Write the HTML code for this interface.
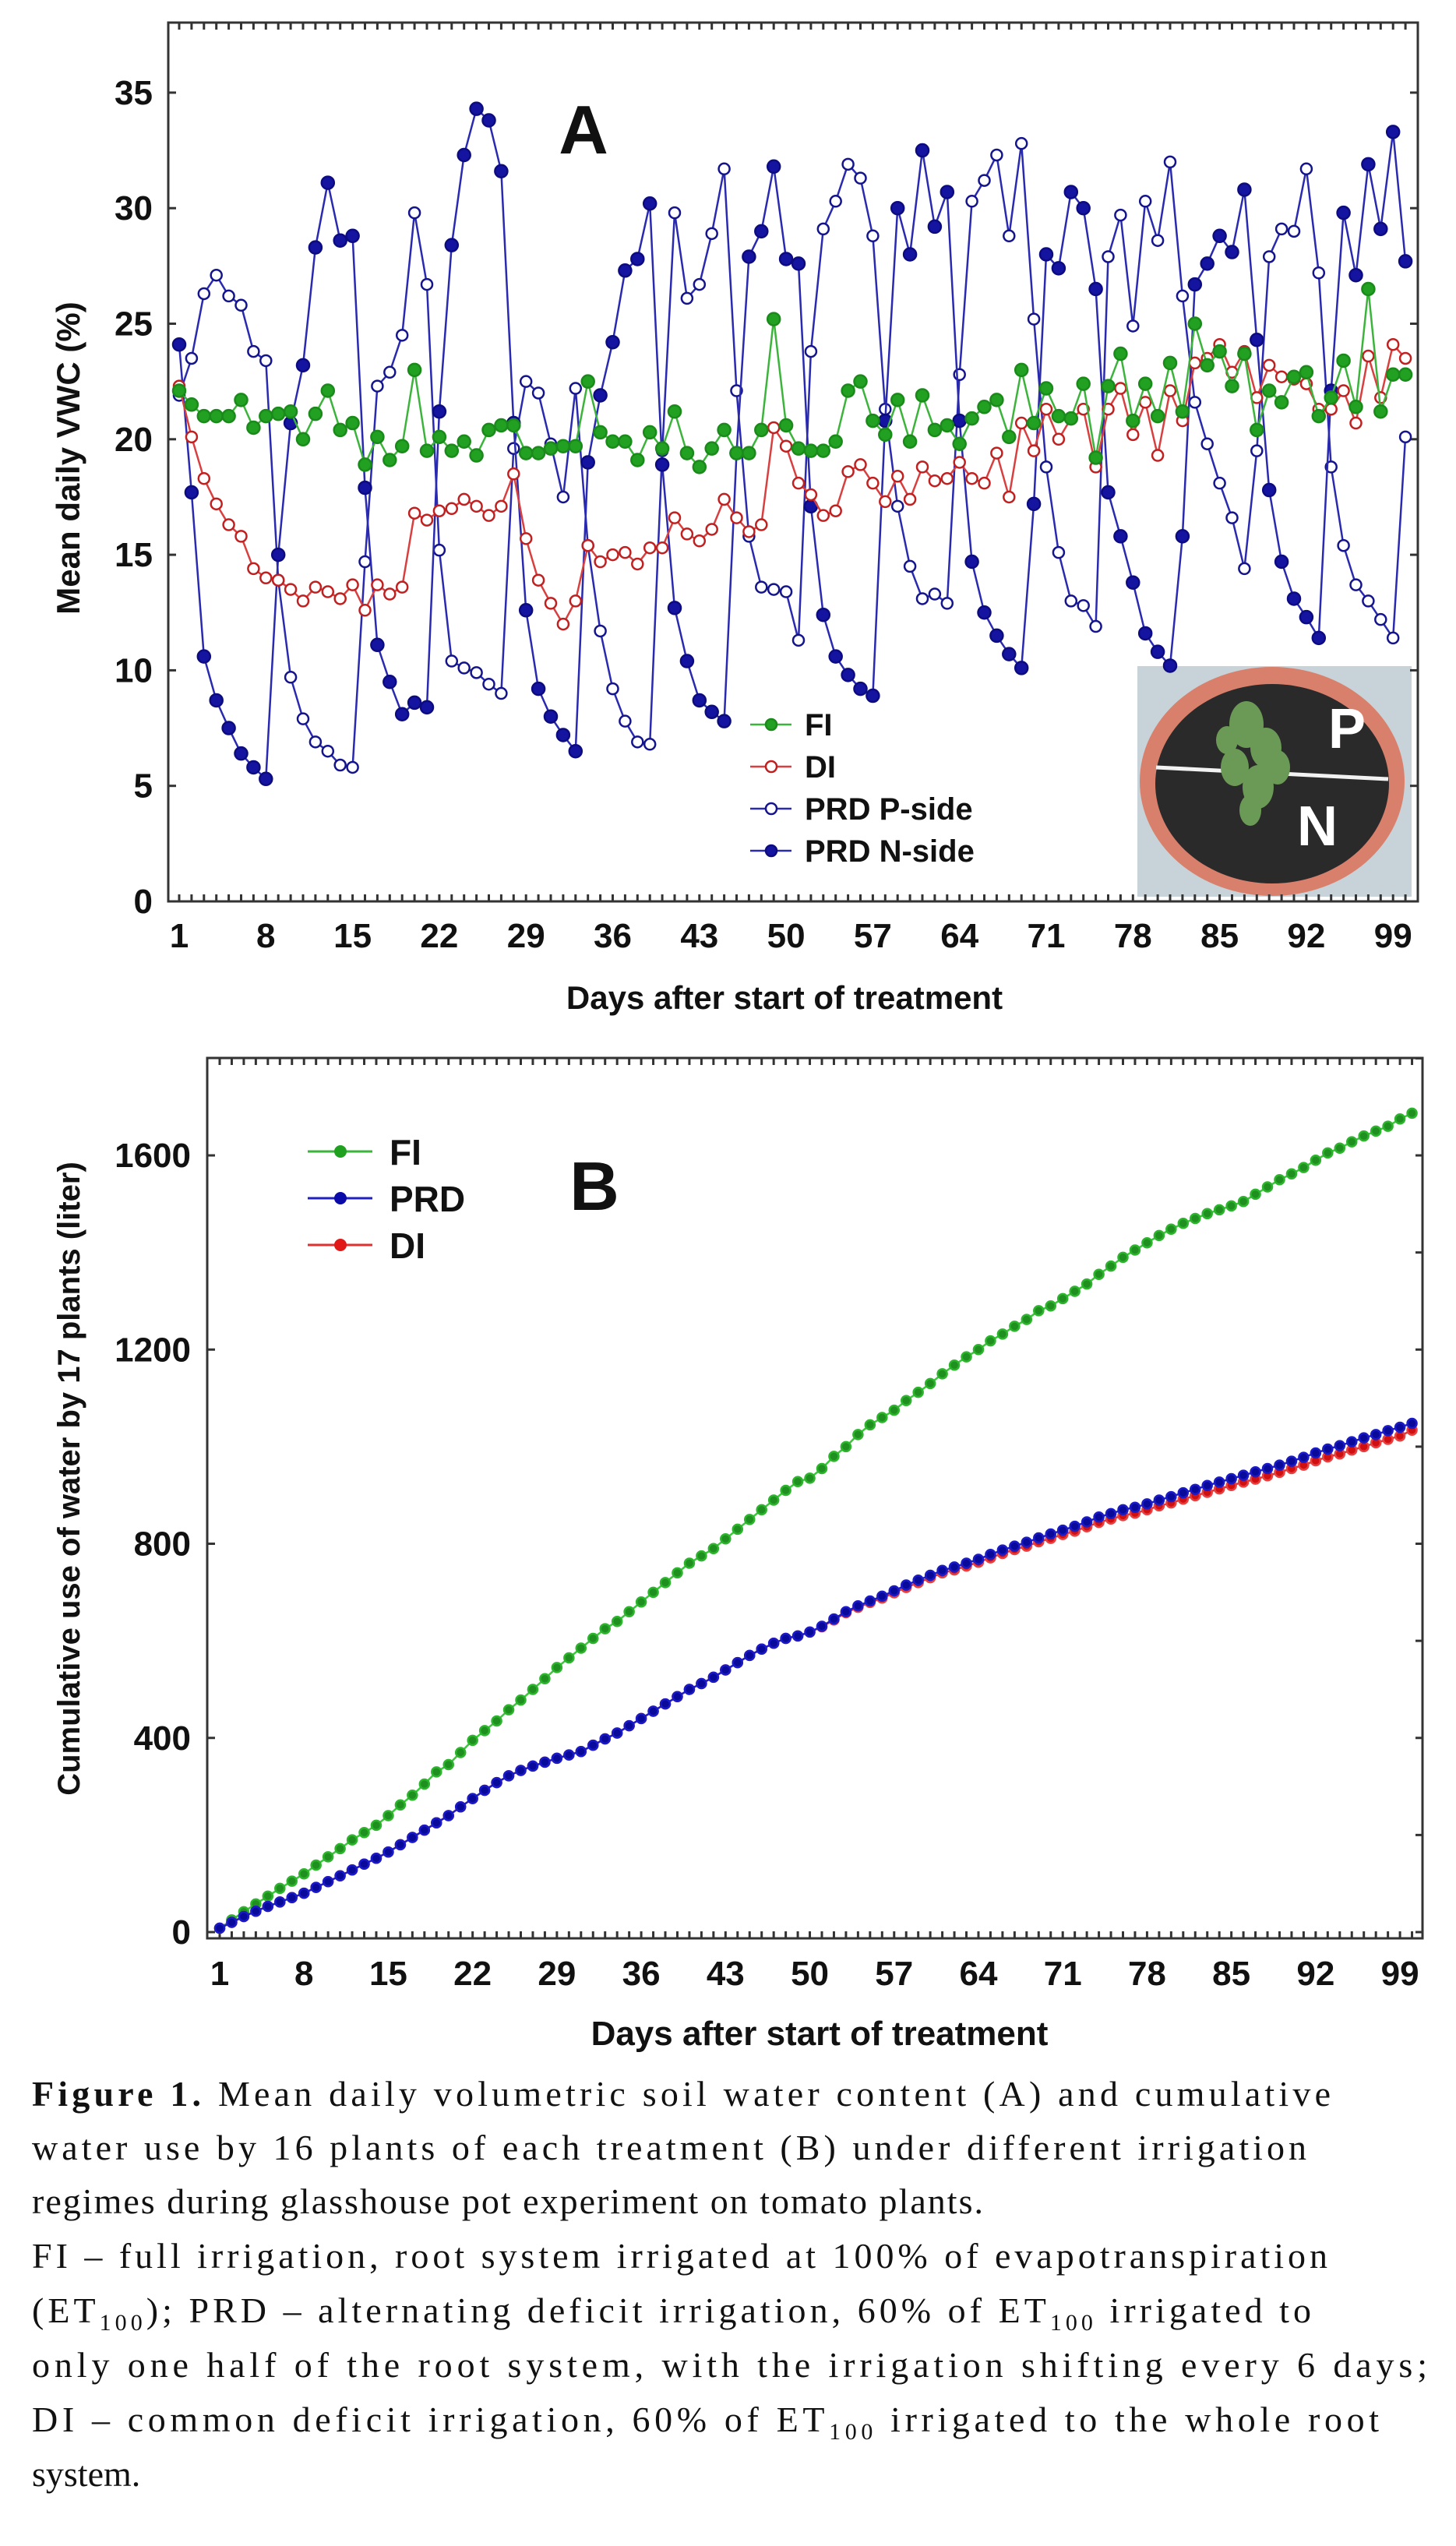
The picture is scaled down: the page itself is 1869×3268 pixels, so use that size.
<!DOCTYPE html>
<html><head><meta charset="utf-8">
<style>
html,body{margin:0;padding:0;background:#fff;}
body{width:1869px;height:3268px;position:relative;overflow:hidden;}
svg{position:absolute;left:0;top:0;}
</style></head>
<body>
<svg id="chart" width="1869" height="2650" viewBox="0 0 1869 2650" font-family="Liberation Sans, sans-serif"></svg>
<svg style="top:2620px" width="1869" height="648" viewBox="0 2620 1869 648" font-family="Liberation Serif, serif" font-size="46" fill="#111">
<text x="41" y="2703" textLength="1667" lengthAdjust="spacing"><tspan font-weight="bold">Figure  1.</tspan> Mean daily volumetric soil water content (A) and cumulative</text>
<text x="41" y="2772" textLength="1636" lengthAdjust="spacing">water use by 16 plants of each treatment (B) under different irrigation</text>
<text x="41" y="2841" textLength="1221" lengthAdjust="spacing">regimes during glasshouse pot experiment on tomato plants.</text>
<text x="41" y="2911" textLength="1663" lengthAdjust="spacing">FI – full irrigation, root system irrigated at 100% of evapotranspiration</text>
<text x="41" y="2981" textLength="1642" lengthAdjust="spacing">(ET<tspan font-size="30" dy="10">100</tspan><tspan dy="-10">); PRD – alternating deficit irrigation, 60% of ET</tspan><tspan font-size="30" dy="10">100</tspan><tspan dy="-10"> irrigated to</tspan></text>
<text x="41" y="3051" textLength="1791" lengthAdjust="spacing">only one half of the root system, with the irrigation shifting every 6 days;</text>
<text x="41" y="3121" textLength="1729" lengthAdjust="spacing">DI – common deficit irrigation, 60% of ET<tspan font-size="30" dy="10">100</tspan><tspan dy="-10"> irrigated to the whole root</tspan></text>
<text x="41" y="3191">system.</text>
</svg>
<script>
// ---------- Chart A data ----------
const daysA = Array.from({length:100},(_,i)=>i+1);
const xTickLabels = [1,8,15,22,29,36,43,50,57,64,71,78,85,92,99];
const yTicksA = [0,5,10,15,20,25,30,35];
const fiA = [22.1,21.5,21.0,21.0,21.0,21.7,20.5,21.0,21.1,21.2,20.0,21.1,22.1,20.4,20.7,18.9,20.1,19.1,19.7,23.0,19.5,20.1,19.5,19.9,19.3,20.4,20.6,20.6,19.4,19.4,19.6,19.7,19.7,22.5,20.3,19.9,19.9,19.1,20.3,19.6,21.2,19.4,18.8,19.6,20.4,19.4,19.4,20.4,25.2,20.6,19.6,19.5,19.5,19.9,22.1,22.5,20.8,20.2,21.7,19.9,21.9,20.4,20.6,19.8,20.9,21.4,21.7,20.1,23.0,20.7,22.2,21.0,20.9,22.4,19.2,22.3,23.7,20.8,22.4,21.0,23.3,21.2,25.0,23.2,23.8,22.3,23.7,20.4,22.1,21.6,22.7,22.9,21.0,21.8,23.4,21.4,26.5,21.2,22.8,22.8];
const diA = [22.3,20.1,18.3,17.2,16.3,15.8,14.4,14.0,13.9,13.5,13.0,13.6,13.4,13.1,13.7,12.6,13.7,13.3,13.6,16.8,16.5,16.9,17.0,17.4,17.1,16.7,17.1,18.5,15.7,13.9,12.9,12.0,13.0,15.4,14.7,15.0,15.1,14.6,15.3,15.3,16.6,15.9,15.6,16.1,17.4,16.6,16.0,16.3,20.5,19.7,18.1,17.6,16.7,16.9,18.6,18.9,18.1,17.3,18.4,17.4,18.8,18.2,18.3,19.0,18.3,18.1,19.4,17.5,20.7,19.5,21.3,20.0,20.9,21.3,18.8,21.3,22.2,20.2,21.6,19.3,22.1,20.8,23.3,23.5,24.1,22.9,23.8,21.8,23.2,22.7,22.6,22.4,21.3,21.3,22.1,20.7,23.6,21.8,24.1,23.5];
const prdPA = [21.9,23.5,26.3,27.1,26.2,25.8,23.8,23.4,13.9,9.7,7.9,6.9,6.5,5.9,5.8,14.7,22.3,22.9,24.5,29.8,26.7,15.2,10.4,10.1,9.9,9.4,9.0,19.6,22.5,22.0,19.8,17.5,22.2,15.4,11.7,9.2,7.8,6.9,6.8,19.5,29.8,26.1,26.7,28.9,31.7,22.1,15.8,13.6,13.5,13.4,11.3,23.8,29.1,30.3,31.9,31.3,28.8,21.3,17.1,14.5,13.1,13.3,12.9,22.8,30.3,31.2,32.3,28.8,32.8,25.2,18.8,15.1,13.0,12.8,11.9,27.9,29.7,24.9,30.3,28.6,32.0,26.2,21.6,19.8,18.1,16.6,14.4,19.5,27.9,29.1,29.0,31.7,27.2,18.8,15.4,13.7,13.0,12.2,11.4,20.1];
const prdNA = [24.1,17.7,10.6,8.7,7.5,6.4,5.8,5.3,15.0,20.7,23.2,28.3,31.1,28.6,28.8,17.9,11.1,9.5,8.1,8.6,8.4,21.2,28.4,32.3,34.3,33.8,31.6,20.7,12.6,9.2,8.0,7.2,6.5,19.0,21.9,24.2,27.3,27.8,30.2,18.9,12.7,10.4,8.7,8.2,7.8,19.4,27.9,29.0,31.8,27.8,27.6,17.1,12.4,10.6,9.8,9.2,8.9,20.8,30.0,28.0,32.5,29.2,30.7,20.8,14.7,12.5,11.5,10.7,10.1,17.2,28.0,27.4,30.7,30.0,26.5,17.7,15.8,13.8,11.6,10.8,10.2,15.8,26.7,27.6,28.8,28.1,30.8,24.3,17.8,14.7,13.1,12.3,11.4,22.1,29.8,27.1,31.9,29.1,33.3,27.7];
// ---------- Chart B data ----------
const yTicksB = [0,400,800,1200,1600];
const fiB = [8,25,42,58,74,90,105,120,138,155,172,190,205,220,240,262,282,305,330,345,370,395,415,435,458,478,500,522,545,565,585,605,625,640,660,680,700,720,740,760,775,790,810,830,850,870,890,910,928,935,955,980,1000,1025,1045,1060,1075,1095,1112,1130,1150,1168,1185,1200,1218,1232,1248,1262,1280,1290,1305,1320,1335,1355,1372,1390,1405,1420,1435,1448,1460,1470,1480,1488,1496,1505,1520,1535,1550,1562,1575,1590,1605,1615,1628,1640,1650,1660,1675,1687];
const prdB = [8,20,32,43,53,62,71,80,92,104,116,128,140,152,165,180,195,210,225,240,258,275,292,308,322,333,342,350,358,365,372,385,398,410,425,440,455,470,485,500,512,525,540,555,570,583,595,605,610,618,630,645,660,672,682,692,703,715,725,735,745,752,760,768,778,787,795,803,812,820,828,836,845,855,862,870,875,882,890,897,905,912,920,927,934,941,948,955,962,970,978,987,995,1002,1010,1018,1025,1033,1040,1048];
const diB = [8,20,32,43,53,62,71,80,92,104,116,128,140,152,165,180,195,210,225,240,258,275,292,308,322,333,342,350,358,365,372,385,398,410,425,440,455,470,485,500,512,525,540,555,570,583,595,605,610,618,629,643,658,669,679,688,699,710,720,730,740,746,754,762,771,780,788,795,804,811,819,826,835,844,851,858,863,870,878,884,892,899,906,913,920,927,933,940,947,955,962,971,979,985,993,1000,1008,1015,1022,1034];

const NS='http://www.w3.org/2000/svg';
const svg=document.getElementById('chart');
function mk(tag,attrs,parent){const e=document.createElementNS(NS,tag);for(const k in attrs)e.setAttribute(k,attrs[k]);(parent||svg).appendChild(e);return e;}

// ---------- Chart A ----------
const A={L:216,R:1820,T:29,B:1157,x0:230,dx:15.9,y0:1157,ky:29.66};
const xA=d=>A.x0+(d-1)*A.dx, yA=v=>A.y0-v*A.ky;
const gA=mk('g',{});


const ph=mk('g',{},gA);


mk('rect',{x:1460,y:855,width:352,height:296,fill:'#c7d3d8'},ph);
mk('ellipse',{cx:1633,cy:1003,rx:170,ry:147,fill:'#d9806c'},ph);
mk('ellipse',{cx:1633,cy:1006,rx:150,ry:128,fill:'#2b2a2a'},ph);
mk('line',{x1:1484,y1:985,x2:1782,y2:1000,stroke:'#f2f2f2','stroke-width':5},ph);
[[1600,930,22,30],[1625,960,20,26],[1585,985,18,24],[1615,1010,20,28],[1640,985,16,22],[1605,1040,14,20],[1575,950,14,18]].forEach(a=>mk('ellipse',{cx:a[0],cy:a[1],rx:a[2],ry:a[3],fill:'#6a9a55'},ph));
const tP=mk('text',{x:1705,y:960,'font-size':72,'font-weight':'bold',fill:'#fff'},ph);tP.textContent='P';

const tN=mk('text',{x:1665,y:1085,'font-size':72,'font-weight':'bold',fill:'#fff'},ph);tN.textContent='N';

mk('rect',{x:A.L,y:A.T,width:A.R-A.L,height:A.B-A.T,fill:'none',stroke:'#333','stroke-width':3},gA);
for(let d=0;d<=101;d++){const x=xA(d); if(x<=A.L+2||x>=A.R-2)continue;
 mk('line',{x1:x,y1:A.B,x2:x,y2:A.B-9,stroke:'#333','stroke-width':3},gA);
 mk('line',{x1:x,y1:A.T,x2:x,y2:A.T+9,stroke:'#333','stroke-width':3},gA);}
yTicksA.forEach(v=>{const y=yA(v);
 mk('line',{x1:A.L,y1:y,x2:A.L+10,y2:y,stroke:'#333','stroke-width':3},gA);
 mk('line',{x1:A.R,y1:y,x2:A.R-10,y2:y,stroke:'#333','stroke-width':3},gA);
 const t=mk('text',{x:196,y:y+15,'font-size':44,'font-weight':'bold','text-anchor':'end',fill:'#111'},gA);t.textContent=v;
 });
xTickLabels.forEach(d=>{const t=mk('text',{x:xA(d),y:1216,'font-size':44,'font-weight':'bold','text-anchor':'middle',fill:'#111'},gA);t.textContent=d;
 });
const xtA=mk('text',{x:1007,y:1295,'font-size':42,'font-weight':'bold','text-anchor':'middle',fill:'#111'},gA);xtA.textContent='Days after start of treatment';

const ytA=mk('text',{x:0,y:0,'font-size':42,'font-weight':'bold','text-anchor':'middle',fill:'#111',transform:'translate(102,588) rotate(-90)'},gA);ytA.textContent='Mean daily VWC (%)';

const la=mk('text',{x:749,y:197,'font-size':88,'font-weight':'bold','text-anchor':'middle',fill:'#111'},gA);la.textContent='A';


function series(g,vals,xf,yf,line,mfill,mstroke,r,name){
 const s=mk('g',{},g);
 
 
 mk('polyline',{points:vals.map((v,i)=>xf(i+1)+','+yf(v)).join(' '),fill:'none',stroke:line,'stroke-width':2.5},s);
 vals.forEach((v,i)=>{const c=mk('circle',{cx:xf(i+1),cy:yf(v),r:r,fill:mfill,stroke:mstroke,'stroke-width':2.5},s);
  });
}
series(gA,prdPA,xA,yA,'#2a2ab0','#fff','#14148c',7,'series-prd-p-side');
series(gA,prdNA,xA,yA,'#2a2ab0','#1414a0','#0c0c80',8,'series-prd-n-side');
series(gA,diA,xA,yA,'#d84040','#fff','#c02020',7,'series-di');
series(gA,fiA,xA,yA,'#3cb43c','#22a022','#1a8a1a',8,'series-fi');
const legA=[['FI','#3cb43c','#22a022','#1a8a1a'],['DI','#d84040','#fff','#c02020'],['PRD P-side','#2a2ab0','#fff','#14148c'],['PRD N-side','#2a2ab0','#1414a0','#0c0c80']];
const lgA=mk('g',{},gA);
legA.forEach((e,i)=>{const y=930+i*54;
 mk('line',{x1:963,y1:y,x2:1016,y2:y,stroke:e[1],'stroke-width':2.5},lgA);
 mk('circle',{cx:990,cy:y,r:7,fill:e[2],stroke:e[3],'stroke-width':2.5},lgA);
 const t=mk('text',{x:1033,y:y+14,'font-size':40,'font-weight':'bold',fill:'#111'},lgA);t.textContent=e[0];
 });

// ---------- Chart B ----------
const B={L:266,R:1826,T:1358,B:2488,x0:282,dx:15.46,y0:2480,ky:0.6231};
const xB=d=>B.x0+(d-1)*B.dx, yB=v=>B.y0-v*B.ky;
const gB=mk('g',{});


mk('rect',{x:B.L,y:B.T,width:B.R-B.L,height:B.B-B.T,fill:'none',stroke:'#333','stroke-width':3},gB);
for(let d=0;d<=101;d++){const x=xB(d); if(x<=B.L+2||x>=B.R-2)continue;
 mk('line',{x1:x,y1:B.B,x2:x,y2:B.B-9,stroke:'#333','stroke-width':3},gB);
 mk('line',{x1:x,y1:B.T,x2:x,y2:B.T+9,stroke:'#333','stroke-width':3},gB);}
for(let v=0;v<=1800;v+=200){const y=yB(v);
 mk('line',{x1:B.R,y1:y,x2:B.R-9,y2:y,stroke:'#333','stroke-width':3},gB);}
yTicksB.forEach(v=>{const y=yB(v);
 mk('line',{x1:B.L,y1:y,x2:B.L+10,y2:y,stroke:'#333','stroke-width':3},gB);
 const t=mk('text',{x:245,y:y+15,'font-size':44,'font-weight':'bold','text-anchor':'end',fill:'#111'},gB);t.textContent=v;
 });
xTickLabels.forEach(d=>{const t=mk('text',{x:xB(d),y:2548,'font-size':44,'font-weight':'bold','text-anchor':'middle',fill:'#111'},gB);t.textContent=d;
 });
const xtB=mk('text',{x:1052,y:2625,'font-size':44,'font-weight':'bold','text-anchor':'middle',fill:'#111'},gB);xtB.textContent='Days after start of treatment';

const ytB=mk('text',{x:0,y:0,'font-size':40,'font-weight':'bold','text-anchor':'middle',fill:'#111',transform:'translate(102,1898) rotate(-90)'},gB);ytB.textContent='Cumulative use of water by 17 plants (liter)';

const lb=mk('text',{x:763,y:1553,'font-size':88,'font-weight':'bold','text-anchor':'middle',fill:'#111'},gB);lb.textContent='B';

series(gB,fiB,xB,yB,'#3cc83c','#1f8f1f','#2cb42c',6,'series-fi-cumulative');
series(gB,diB,xB,yB,'#e03030','#d01010','#e84040',6,'series-di-cumulative');
series(gB,prdB,xB,yB,'#2020c0','#0a0a9a','#1a1ac8',6,'series-prd-cumulative');
const legB=[['FI','#3cb43c','#1fa01f'],['PRD','#2020c0','#0a0aa8'],['DI','#e03030','#e01818']];
const lgB=mk('g',{},gB);
legB.forEach((e,i)=>{const y=1478+i*60;
 mk('line',{x1:395,y1:y,x2:478,y2:y,stroke:e[1],'stroke-width':3},lgB);
 mk('circle',{cx:437,cy:y,r:8,fill:e[2]},lgB);
 const t=mk('text',{x:500,y:y+17,'font-size':46,'font-weight':'bold',fill:'#111'},lgB);t.textContent=e[0];
 });
</script>
</body></html>
